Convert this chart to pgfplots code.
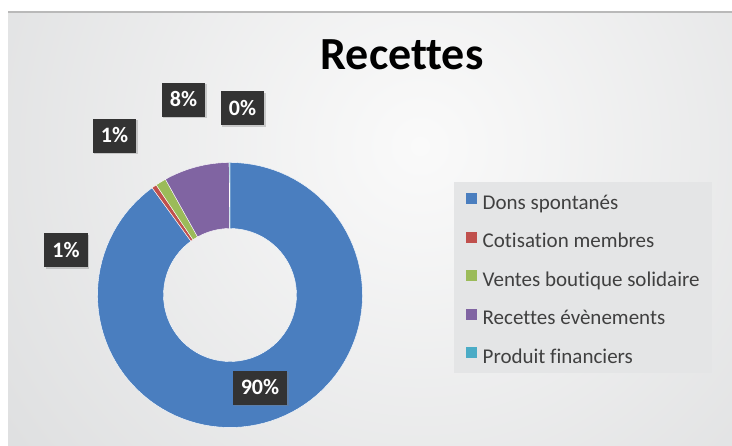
\documentclass[border=0pt]{standalone}
\usepackage{fontspec}
\setmainfont{Carlito}[Ligatures=NoCommon]
\usepackage{pgfplots}
\pgfplotsset{compat=1.18}
\usetikzlibrary{shadows}

\definecolor{cDons}{HTML}{4A7EBF}
\definecolor{cCotis}{HTML}{C0504D}
\definecolor{cVentes}{HTML}{9BBB59}
\definecolor{cRecet}{HTML}{8064A2}
\definecolor{cProd}{HTML}{4BACC6}
\definecolor{bgin}{HTML}{FAFAFA}
\definecolor{bgout}{HTML}{C0C2C4}
\definecolor{legbg}{HTML}{E4E5E6}
\definecolor{lblbg}{HTML}{333333}
\pgfdeclareradialshading{bgshade}{\pgfpoint{0bp}{0bp}}{color(0bp)=(bgin); color(50bp)=(bgout)}

% donut slice between two cumulative percentages (start, end) -- centre (230,151), R=132.5, r=66.5
\newcommand{\slice}[3]{%
\addplot[fill=#3, draw=white, line width=0.4pt, variable=\t, samples at={0,1,...,201}]
 ({230 + ((\t<=100) ? 132.5 : 66.5)*cos(90-3.6*((\t<=100) ? (#1+(#2-#1)*\t/100) : (#2-(#2-#1)*(\t-101)/100)))},
  {151 + ((\t<=100) ? 132.5 : 66.5)*sin(90-3.6*((\t<=100) ? (#1+(#2-#1)*\t/100) : (#2-(#2-#1)*(\t-101)/100)))}) -- cycle;
}

\begin{document}
\begin{tikzpicture}
\useasboundingbox (0,0) rectangle (732pt,446pt);
\fill[white] (0,0) rectangle (732pt,446pt);
\begin{scope}
\clip (8pt,0pt) rectangle (732pt,434pt);
\shade[overlay, shading=bgshade] (420pt,300pt) circle (540pt);
\end{scope}
\draw[gray!55, line width=1.2pt] (8pt,434pt) -- (732pt,434pt);
% legend box
\fill[legbg] (454pt,73pt) rectangle (712pt,264pt);

\begin{axis}[
  at={(0pt,0pt)}, anchor=south west,
  width=732pt, height=446pt, scale only axis,
  xmin=0, xmax=732, ymin=0, ymax=446,
  hide axis, clip=false,
  legend image code/.code={\fill[#1,draw=none] (0pt,0pt) rectangle (11pt,11pt);},
  legend cell align=left,
  legend style={at={(axis cs:466,252.7)}, anchor=north west, draw=none, fill=none,
    inner sep=0pt, column sep=0pt, row sep=18.5pt,
    font=\fontsize{21}{24}\selectfont, text=black!75,
    nodes={inner sep=0pt, inner xsep=5.5pt, text height=14pt, text depth=4pt}},
]
% cumulative percentages: Dons 90.0, Cotisation 0.6, Ventes 1.3, Recettes 8.0, Produit 0.1
\slice{0}{90.0}{cDons}
\addlegendentry{Dons spontanés}
\slice{90.0}{90.6}{cCotis}
\addlegendentry{Cotisation membres}
\slice{90.6}{91.9}{cVentes}
\addlegendentry{Ventes boutique solidaire}
\slice{91.9}{99.9}{cRecet}
\addlegendentry{Recettes évènements}
\slice{99.9}{100}{cProd}
\addlegendentry{Produit financiers}
\end{axis}

\node[anchor=base, font=\fontsize{46}{50}\selectfont\bfseries] at (402pt,376.7pt) {Recettes};

\tikzset{lbl/.style={fill=lblbg, text=white, font=\fontsize{22}{24}\selectfont\bfseries,
  inner xsep=8pt, inner ysep=10pt, text height=14pt, text depth=0pt,
  drop shadow={opacity=0.35, shadow xshift=1.5pt, shadow yshift=-1.5pt}}}
\node[lbl] at (260pt,58pt) {90\%};
\node[lbl] at (66pt,195.5pt) {1\%};
\node[lbl] at (114.5pt,310pt) {1\%};
\node[lbl] at (183.5pt,346pt) {8\%};
\node[lbl] at (242.5pt,337.5pt) {0\%};
\end{tikzpicture}
\end{document}
